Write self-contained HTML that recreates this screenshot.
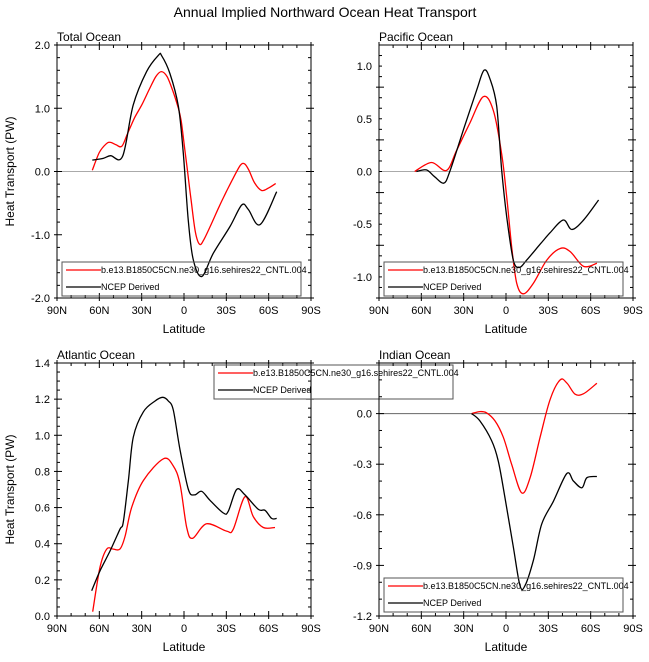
<!DOCTYPE html>
<html><head><meta charset="utf-8">
<style>
html,body{margin:0;padding:0;background:#fff;}
svg{display:block;font-family:"Liberation Sans",Arial,sans-serif;}
</style></head>
<body>
<svg id="chart" width="649" height="662" viewBox="0 0 649 662" xmlns="http://www.w3.org/2000/svg">
<text x="325" y="17" text-anchor="middle" font-size="14">Annual Implied Northward Ocean Heat Transport</text>
</svg>
<script>
// Latitudes (positive = N) and values (PW) per panel and series
const totalRedLat = [65,60,55,52,48,44,40,35,30,25,20,16,12,8,4,2,0,-2,-5,-8,-11,-14,-20,-25,-30,-35,-40,-43,-46,-50,-55,-60,-65];
const totalRedVal = [0.02,0.3,0.44,0.46,0.42,0.40,0.6,0.85,1.05,1.28,1.5,1.58,1.5,1.28,1.0,0.8,0.45,0.1,-0.45,-0.95,-1.15,-1.08,-0.8,-0.55,-0.32,-0.1,0.1,0.12,0.02,-0.18,-0.3,-0.26,-0.19];
const totalBlkLat = [65,57,52,43.5,36,26.5,18,15.8,10,4,0.5,-3,-6.5,-12.6,-20.8,-32.6,-40.9,-45.6,-53.9,-65.7];
const totalBlkVal = [0.18,0.21,0.25,0.24,1.05,1.58,1.84,1.83,1.55,1.03,0.29,-0.76,-1.39,-1.66,-1.29,-0.87,-0.53,-0.6,-0.84,-0.32];

const pacRedLat = [64.7,52.8,42.2,35,25.6,16.1,9,3.1,-0.5,-4,-7.6,-12.3,-19.4,-28.9,-38.4,-45.5,-55,-64.4];
const pacRedVal = [0,0.085,0.01,0.2,0.46,0.71,0.58,0.17,-0.24,-0.71,-1.06,-1.16,-1.06,-0.84,-0.73,-0.76,-0.9,-0.87];
const pacBlkLat = [63.5,56.4,50.5,44.1,39.8,30.3,20.8,15.6,11.4,6.6,3.1,-0.5,-5.2,-9.5,-14.7,-24.2,-31.3,-40.7,-46.6,-55,-65.6];
const pacBlkVal = [0,0.015,-0.05,-0.11,0,0.39,0.77,0.96,0.88,0.62,0.02,-0.43,-0.84,-0.91,-0.84,-0.69,-0.58,-0.46,-0.55,-0.46,-0.27];

const atlRedLat = [64.7,59.5,54.8,50.1,45.4,41.8,37.1,28.8,14.6,7.6,2.8,-1.9,-6.1,-16,-30.2,-34.9,-43.2,-49.1,-56.2,-64.5];
const atlRedVal = [0.024,0.27,0.37,0.37,0.37,0.44,0.6,0.75,0.87,0.83,0.73,0.49,0.43,0.51,0.47,0.48,0.66,0.55,0.49,0.49];
const atlBlkLat = [65.4,59.5,52.4,45.4,43,39.4,35.9,28.8,20.5,15.1,11.1,7.6,2.8,-3.1,-7.4,-12.5,-18.4,-27.9,-31.4,-37.3,-43.2,-52.7,-57.4,-62.1,-65.7];
const atlBlkVal = [0.14,0.25,0.36,0.48,0.52,0.75,0.99,1.13,1.19,1.21,1.19,1.14,0.92,0.70,0.67,0.69,0.64,0.57,0.58,0.70,0.67,0.59,0.585,0.54,0.54];

const indRedLat = [24.4,18.5,13.7,7.8,1.9,-4,-11.1,-17.1,-24.2,-31.3,-38.4,-43.2,-49,-55,-64.4];
const indRedVal = [0,0.012,0.004,-0.043,-0.14,-0.3,-0.47,-0.38,-0.14,0.085,0.2,0.18,0.115,0.118,0.18];
const indBlkLat = [24.4,18.5,10.2,5.5,0.7,-5.2,-9.9,-13.5,-19.4,-25.3,-33.6,-43.1,-47.8,-53.8,-57.3,-64.4];
const indBlkVal = [0,-0.043,-0.16,-0.28,-0.5,-0.79,-1.02,-1.02,-0.87,-0.655,-0.52,-0.355,-0.4,-0.44,-0.38,-0.373];

const xTickLats = [90,60,30,0,-30,-60,-90];
const xTickLabels = ["90N","60N","30N","0","30S","60S","90S"];
const legendLabels = ["b.e13.B1850C5CN.ne30_g16.sehires22_CNTL.004","NCEP Derived"];

const NS = "http://www.w3.org/2000/svg";
const svg = document.getElementById("chart");
function mk(tag, attrs, parent){
  const e = document.createElementNS(NS, tag);
  for (const k in attrs) e.setAttribute(k, attrs[k]);
  (parent||svg).appendChild(e);
  return e;
}
function smoothPath(pts){
  let d = "M" + pts[0][0].toFixed(1) + "," + pts[0][1].toFixed(1);
  for (let i=0;i<pts.length-1;i++){
    const p0=pts[Math.max(0,i-1)], p1=pts[i], p2=pts[i+1], p3=pts[Math.min(pts.length-1,i+2)];
    const c1x=p1[0]+(p2[0]-p0[0])/6, c1y=p1[1]+(p2[1]-p0[1])/6;
    const c2x=p2[0]-(p3[0]-p1[0])/6, c2y=p2[1]-(p3[1]-p1[1])/6;
    d += " C"+c1x.toFixed(1)+","+c1y.toFixed(1)+" "+c2x.toFixed(1)+","+c2y.toFixed(1)+" "+p2[0].toFixed(1)+","+p2[1].toFixed(1);
  }
  return d;
}

function panel(cfg){
  const g = mk("g", {});
  
  
  const L=cfg.x0, R=cfg.x1, T=cfg.y0, B=cfg.y1;
  const xs = lat => L + (90-lat)/180*(R-L);
  const ys = v => B - (v-cfg.ymin)/(cfg.ymax-cfg.ymin)*(B-T);

  const title = mk("text", {x:L, y:T-4, "font-size":"12"}, g);
  title.textContent = cfg.title;
  
  

  const z = mk("line", {x1:L, x2:R, y1:ys(0), y2:ys(0), stroke:cfg.zeroColor, "stroke-width":1}, g);
  
  

  const tg = mk("g", {stroke:"#000","stroke-width":1}, g);
  
  
  for (let lat=90; lat>=-90; lat-=10){
    const major = lat%30===0, len = major?5:3, x = xs(lat);
    mk("line",{x1:x,x2:x,y1:B,y2:B-len},tg);
    mk("line",{x1:x,x2:x,y1:T,y2:T+len},tg);
    if (major){ mk("line",{x1:x,x2:x,y1:B,y2:B+3},tg); mk("line",{x1:x,x2:x,y1:T,y2:T-3},tg); }
  }
  const nMinor = Math.round((cfg.ymax-cfg.ymin)/cfg.minor);
  for (let i=0;i<=nMinor;i++){
    const v = cfg.ymin + i*cfg.minor;
    const rel = (v-cfg.ymin)/cfg.major;
    const major = Math.abs(rel-Math.round(rel))<1e-6;
    const len = major?5:3, y = ys(v);
    mk("line",{x1:L,x2:L+len,y1:y,y2:y},tg);
    mk("line",{x1:R,x2:R-len,y1:y,y2:y},tg);
    if (major){ mk("line",{x1:L,x2:L-3,y1:y,y2:y},tg); mk("line",{x1:R,x2:R+3,y1:y,y2:y},tg); }
  }
  const fr = mk("rect",{x:L,y:T,width:R-L,height:B-T,fill:"none",stroke:"#000","stroke-width":1}, g);
  
  

  cfg.yLabels.forEach(v=>{
    const t = mk("text",{x:L-7,y:ys(v)+4,"text-anchor":"end","font-size":"11"}, g);
    t.textContent = v.toFixed(1);
    
    
  });
  xTickLats.forEach((lat,i)=>{
    const t = mk("text",{x:xs(lat),y:B+16,"text-anchor":"middle","font-size":"11"}, g);
    t.textContent = xTickLabels[i];
    
    
  });
  const xt = mk("text",{x:(L+R)/2,y:B+35,"text-anchor":"middle","font-size":"12"}, g);
  xt.textContent = "Latitude";
  
  
  if (cfg.yTitle){
    const yt = mk("text",{x:0,y:0,"text-anchor":"middle","font-size":"12",transform:"translate(14,"+((T+B)/2)+") rotate(-90)"}, g);
    yt.textContent = "Heat Transport (PW)";
    
    
  }

  const rp = mk("path",{d:smoothPath(cfg.redLat.map((la,i)=>[xs(la),ys(cfg.redVal[i])])),fill:"none",stroke:"#ff0000","stroke-width":1.3}, g);
  
  
  const bp = mk("path",{d:smoothPath(cfg.blkLat.map((la,i)=>[xs(la),ys(cfg.blkVal[i])])),fill:"none",stroke:"#000","stroke-width":1.3}, g);
  
  

  const lg = mk("g",{}, svg);
  
  
  const lx=cfg.leg[0], ly=cfg.leg[1];
  mk("rect",{x:lx,y:ly,width:239,height:34,fill:"none",stroke:"#555","stroke-width":1}, lg);
  const cols=["#ff0000","#000"];
  legendLabels.forEach((lab,i)=>{
    const yy = ly+8+i*17;
    mk("line",{x1:lx+4,x2:lx+39,y1:yy,y2:yy,stroke:cols[i],"stroke-width":1.3}, lg);
    const t = mk("text",{x:lx+39,y:yy+3,"font-size":"9"}, lg);
    t.textContent = lab;
    
    
  });
}

panel({name:"total-ocean-panel",title:"Total Ocean",x0:57,x1:311,y0:45,y1:298,ymin:-2,ymax:2,major:1,minor:0.2,
  yLabels:[-2,-1,0,1,2],yTitle:true,zeroColor:"#aaa",redLat:totalRedLat,redVal:totalRedVal,blkLat:totalBlkLat,blkVal:totalBlkVal,leg:[62,262]});
panel({name:"pacific-ocean-panel",title:"Pacific Ocean",x0:379,x1:633,y0:45,y1:298,ymin:-1.2,ymax:1.2,major:0.5,minor:0.1,
  yLabels:[-1,-0.5,0,0.5,1],yTitle:false,zeroColor:"#aaa",redLat:pacRedLat,redVal:pacRedVal,blkLat:pacBlkLat,blkVal:pacBlkVal,leg:[384,262]});
panel({name:"atlantic-ocean-panel",title:"Atlantic Ocean",x0:57,x1:311,y0:363,y1:616,ymin:0,ymax:1.4,major:0.2,minor:0.05,
  yLabels:[0,0.2,0.4,0.6,0.8,1.0,1.2,1.4],yTitle:true,zeroColor:"#aaa",redLat:atlRedLat,redVal:atlRedVal,blkLat:atlBlkLat,blkVal:atlBlkVal,leg:[214,365]});
panel({name:"indian-ocean-panel",title:"Indian Ocean",x0:379,x1:633,y0:363,y1:616,ymin:-1.2,ymax:0.3,major:0.3,minor:0.1,
  yLabels:[-1.2,-0.9,-0.6,-0.3,0],yTitle:false,zeroColor:"#666",redLat:indRedLat,redVal:indRedVal,blkLat:indBlkLat,blkVal:indBlkVal,leg:[384,578]});
</script>
</body></html>
